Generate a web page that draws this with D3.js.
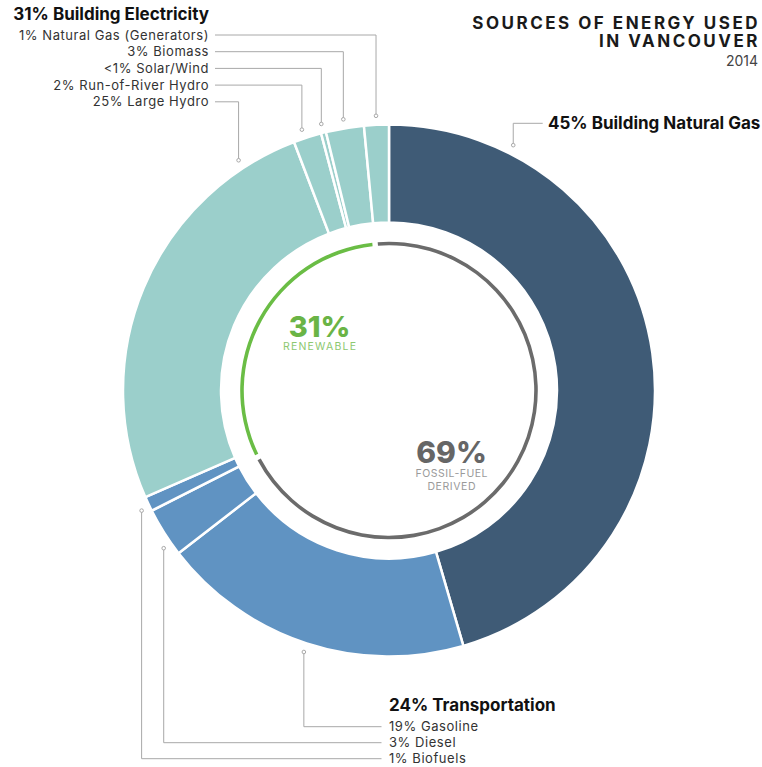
<!DOCTYPE html>
<html>
<head>
<meta charset="utf-8">
<script src="https://cdn.jsdelivr.net/npm/d3@7"></script>
<style>
  body { margin: 0; background: #fff; }
  svg text { font-family: "Inter", "Open Sans", sans-serif; }
</style>
</head>
<body>
<div id="chart"></div>
<script>
// Shares of each source, clockwise from the top
const categories = ["Building Natural Gas", "Gasoline", "Diesel", "Biofuels",
  "Large Hydro", "Run-of-River Hydro", "Solar/Wind", "Biomass", "Natural Gas (Generators)"];
const shares = [45.4, 19.0, 3.0, 0.9, 25.7, 1.7, 0.3, 2.3, 1.5];
const shareLabels = ["45%", "19%", "3%", "1%", "25%", "2%", "<1%", "3%", "1%"];
const groups = ["gas", "transport", "transport", "transport",
  "electricity", "electricity", "electricity", "electricity", "electricity"];
const renewable = [false, false, false, true, true, true, true, true, false];

const groupTitles = { gas: "45% Building Natural Gas", transport: "24% Transportation", electricity: "31% Building Electricity" };
const renewableLabel = "31%";
const fossilLabel = "69%";

const width = 762;
const height = 767;
const cx = 389, cy = 390.5;
const outerR = 266, innerR = 168;

const colors = { gas: "#3f5b76", transport: "#6093c2", electricity: "#9bcfcb" };

const data = categories.map((c, i) => ({
  name: c, value: shares[i], label: shareLabels[i], group: groups[i], renewable: renewable[i]
}));

const svg = d3.select("#chart")
  .append("svg")
    .attr("width", width)
    .attr("height", height);

const chart = svg.append("g")
  .attr("transform", `translate(${cx}, ${cy})`);

// ------ Donut ------- //
const pie = d3.pie().value(d => d.value).sort(null);
const arcs = pie(data);

const arcGen = d3.arc().innerRadius(innerR).outerRadius(outerR);

chart.selectAll("path.slice")
  .data(arcs)
  .join("path")
    .attr("class", "slice")
    .attr("d", arcGen)
    .attr("fill", d => colors[d.data.group])
    .attr("stroke", "#fff")
    .attr("stroke-width", 2.5)
    .attr("stroke-linejoin", "miter");

// ------ Inner renewable / fossil ring ------- //
const renewArcs = arcs.filter(d => d.data.renewable);
const ringStart = renewArcs[0].startAngle;
const renewTotal = d3.sum(renewArcs, d => d.value);
const fossilTotal = d3.sum(arcs.filter(d => !d.data.renewable), d => d.value);

const ringPie = d3.pie().value(d => d.value).sort(null)
  .startAngle(ringStart).endAngle(ringStart + 2 * Math.PI);
const ringArc = d3.arc().innerRadius(145.2).outerRadius(148.8).padAngle(0.026);

chart.selectAll("path.ring")
  .data(ringPie([{ key: "renew", value: renewTotal }, { key: "fossil", value: fossilTotal }]))
  .join("path")
    .attr("class", "ring")
    .attr("d", ringArc)
    .attr("fill", d => d.data.key === "renew" ? "#6abd45" : "#6b6b6b");

// Center labels
chart.append("text")
    .text(renewableLabel)
    .attr("x", -69.5).attr("y", -54)
    .attr("text-anchor", "middle")
    .attr("font-size", 29).attr("font-weight", 800)
    .attr("fill", "#6ab446");
chart.append("text")
    .text("RENEWABLE")
    .attr("x", -69.5 + 0.6).attr("y", -40.5)
    .attr("text-anchor", "middle")
    .attr("font-size", 10.5).attr("letter-spacing", 1.2)
    .attr("fill", "#8dc870");

chart.append("text")
    .text(fossilLabel)
    .attr("x", 62.5).attr("y", 72)
    .attr("text-anchor", "middle")
    .attr("font-size", 30).attr("font-weight", 800)
    .attr("fill", "#666");
chart.append("text")
    .text("FOSSIL-FUEL")
    .attr("x", 62.8).attr("y", 86.5)
    .attr("text-anchor", "middle")
    .attr("font-size", 10.5).attr("letter-spacing", 0.5)
    .attr("fill", "#9a9a9a");
chart.append("text")
    .text("DERIVED")
    .attr("x", 62.8).attr("y", 99.5)
    .attr("text-anchor", "middle")
    .attr("font-size", 10.5).attr("letter-spacing", 0.6)
    .attr("fill", "#9a9a9a");

// ------ Title ------- //
const title = svg.append("g").attr("text-anchor", "end");
title.append("text").text("SOURCES OF ENERGY USED")
  .attr("x", 760).attr("y", 29)
  .attr("font-size", 17).attr("font-weight", 700).attr("letter-spacing", 2.5).attr("fill", "#1a1a1a");
title.append("text").text("IN VANCOUVER")
  .attr("x", 760).attr("y", 47)
  .attr("font-size", 17).attr("font-weight", 700).attr("letter-spacing", 2.5).attr("fill", "#1a1a1a");
title.append("text").text("2014")
  .attr("x", 758).attr("y", 66)
  .attr("font-size", 14).attr("fill", "#444");

// ------ Leader lines and labels ------- //
const dotR = outerR + 9;
// where along each slice the leader dot sits (fraction of the slice's angle)
const anchorAt = { "Building Natural Gas": 0.164, "Large Hydro": 0.868, "Run-of-River Hydro": 0.4,
  "Diesel": 0.25, "Biofuels": 0.3 };
const dotPos = d => {
  const f = anchorAt[d.data.name] ?? 0.5;
  const a = d.startAngle + f * (d.endAngle - d.startAngle);
  return [cx + dotR * Math.sin(a), cy - dotR * Math.cos(a)];
};

const lineColor = "#a8a8a8";
const labels = svg.append("g");

const addDot = (x, y) => labels.append("circle")
  .attr("cx", x).attr("cy", y).attr("r", 1.8)
  .attr("fill", "#fff").attr("stroke", lineColor).attr("stroke-width", 1);

// Building electricity: header + rows right-aligned, lines go right then down
const elec = arcs.filter(d => d.data.group === "electricity").reverse();
labels.append("text").text(groupTitles.electricity)
  .attr("x", 209).attr("y", 20)
  .attr("text-anchor", "end")
  .attr("font-size", 17).attr("font-weight", 700).attr("fill", "#111");
elec.forEach((d, i) => {
  const y = 35 + i * 16.7;
  const [px, py] = dotPos(d);
  labels.append("text").text(`${d.data.label} ${d.data.name}`)
    .attr("x", 209).attr("y", y).attr("dy", "0.35em")
    .attr("text-anchor", "end")
    .attr("font-size", 13).attr("letter-spacing", 0.55).attr("fill", "#333");
  labels.append("path")
    .attr("d", `M215,${y}H${px}V${py}`)
    .attr("fill", "none").attr("stroke", lineColor).attr("stroke-width", 1);
  addDot(px, py);
});

// Transportation: header + rows left-aligned below chart, lines go down then right
const trans = arcs.filter(d => d.data.group === "transport");
labels.append("text").text(groupTitles.transport)
  .attr("x", 389).attr("y", 705).attr("dy", "0.35em")
  .attr("font-size", 17).attr("font-weight", 700).attr("fill", "#111");
trans.forEach((d, i) => {
  const y = 726.7 + i * 16;
  const [px, py] = dotPos(d);
  labels.append("text").text(`${d.data.label} ${d.data.name}`)
    .attr("x", 389).attr("y", y).attr("dy", "0.35em")
    .attr("font-size", 13).attr("letter-spacing", 0.55).attr("fill", "#333");
  labels.append("path")
    .attr("d", `M${px},${py}V${y}H381.5`)
    .attr("fill", "none").attr("stroke", lineColor).attr("stroke-width", 1);
  addDot(px, py);
});

// Building natural gas
const gas = arcs.find(d => d.data.group === "gas");
const [gx, gy] = dotPos(gas);
labels.append("text").text(groupTitles.gas)
  .attr("x", 548).attr("y", 123.3).attr("dy", "0.35em")
  .attr("font-size", 17).attr("font-weight", 700).attr("fill", "#111");
labels.append("path")
  .attr("d", `M${gx},${gy}V123.3H542.7`)
  .attr("fill", "none").attr("stroke", lineColor).attr("stroke-width", 1);
addDot(gx, gy);
</script>
</body>
</html>
